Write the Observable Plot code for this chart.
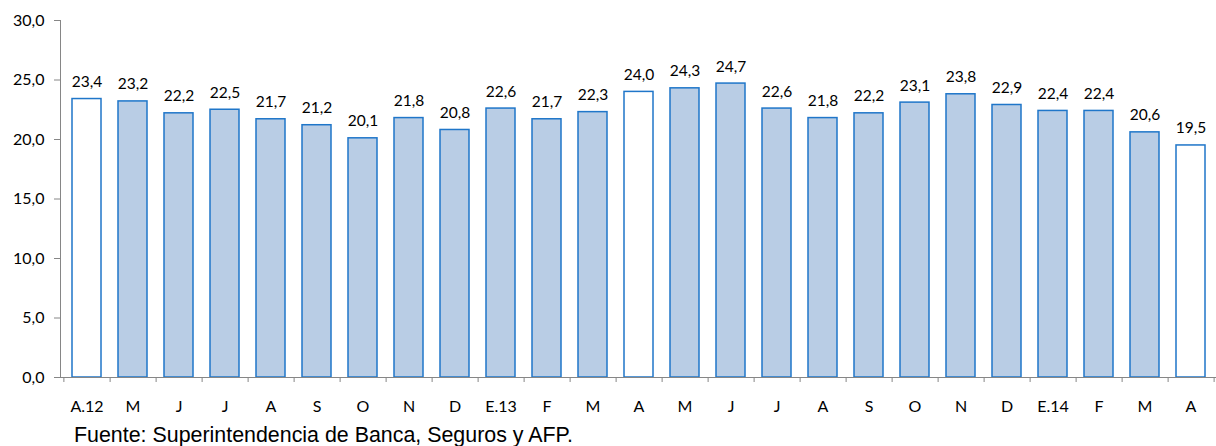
<!DOCTYPE html>
<html>
<head>
<meta charset="utf-8">
<script src="https://cdn.jsdelivr.net/npm/d3@7"></script>
<script src="https://cdn.jsdelivr.net/npm/@observablehq/plot@0.6"></script>
<style>
  body { margin: 0; background: #fff; }
  #caption { font-family: "Liberation Sans", Arial, sans-serif; font-size: 21.4px; color: #000; padding-left: 74px; padding-top: 1px; line-height: 28px; height: 28px; white-space: nowrap; }
</style>
</head>
<body>
<div id="chart"></div>
<div id="caption">Fuente: Superintendencia de Banca, Seguros y AFP.</div>
<script>
const labels = ["A.12","M","J","J","A","S","O","N","D","E.13","F","M","A","M","J","J","A","S","O","N","D","E.14","F","M","A"];
const values = [23.4,23.2,22.2,22.5,21.7,21.2,20.1,21.8,20.8,22.6,21.7,22.3,24.0,24.3,24.7,22.6,21.8,22.2,23.1,23.8,22.9,22.4,22.4,20.6,19.5];
const highlighted = [0, 12, 24];
const yTicks = [0, 5, 10, 15, 20, 25, 30];

const data = values.map((v, i) => ({i, label: labels[i], value: v, hollow: highlighted.includes(i)}));
const comma1 = v => v.toFixed(1).replace(".", ",");

const W = 1216, H = 420, mL = 60, mR = 0;
const step = (W - mL - mR) / labels.length;
const axisColor = "#868686";
const font = "Lato, 'Open Sans', sans-serif";

const chart = Plot.plot({
  width: W,
  height: H,
  marginTop: 20,
  marginBottom: 43,
  marginLeft: mL,
  marginRight: mR,
  style: {fontFamily: font, fontSize: "15px", color: "#000", background: "#fff"},
  x: {domain: d3.range(labels.length), paddingInner: 0.38, paddingOuter: 0.19, axis: null, label: null},
  y: {domain: [0, 30], axis: null, label: null},
  marks: [
    Plot.barY(data, {
      x: "i", y: "value",
      fill: d => d.hollow ? "#ffffff" : "#b9cde5",
      stroke: "#1f76c9", strokeWidth: 1.5
    }),
    Plot.text(data, {x: "i", y: "value", text: d => comma1(d.value), dy: -17, fill: "#000", fontSize: 15.5}),
    Plot.frame({anchor: "left", stroke: axisColor}),
    Plot.ruleY([0], {stroke: axisColor}),
    Plot.axisY({ticks: yTicks, tickSize: 6, tickPadding: 10, tickFormat: comma1, stroke: axisColor, fill: "#000", fontSize: 16, label: null}),
    Plot.axisX({tickSize: 0, tickPadding: 23, tickFormat: i => labels[i], fill: "#000", fontSize: 16, label: null}),
    Plot.axisX({tickSize: 5, tickFormat: () => "", dx: step / 2, stroke: axisColor, label: null}),
    Plot.axisX({ticks: [0], tickSize: 5, tickFormat: () => "", dx: -step / 2, stroke: axisColor, label: null})
  ]
});
document.getElementById("chart").appendChild(chart);
</script>
</body>
</html>
